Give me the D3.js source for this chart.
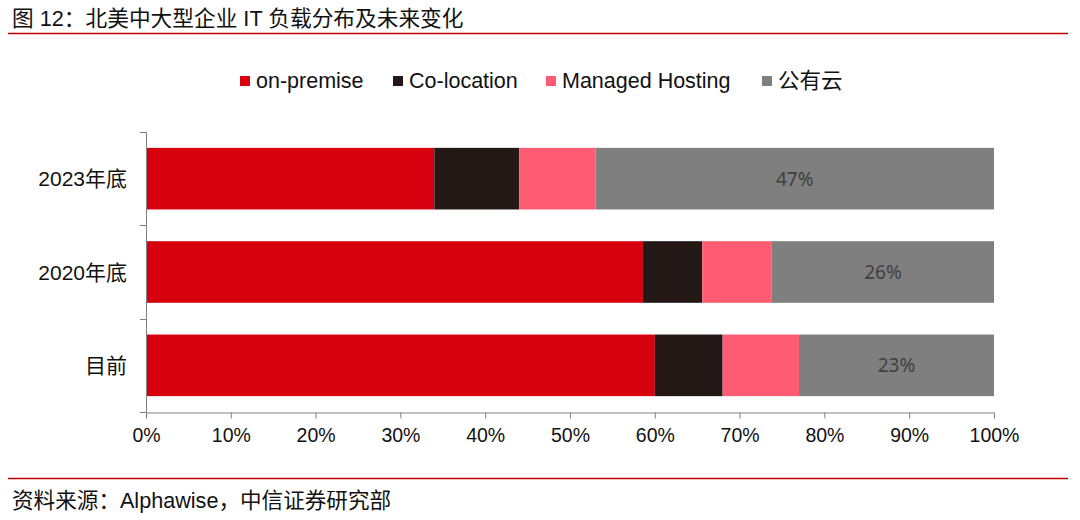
<!DOCTYPE html>
<html><head><meta charset="utf-8">
<script src="https://cdn.jsdelivr.net/npm/d3@7"></script>
<style>body{margin:0;background:#fff}svg{display:block}</style>
</head><body><svg id="c" width="1080" height="520"></svg>
<script>
const categories = ["2023年底", "2020年底", "目前"];
const seriesNames = ["on-premise", "Co-location", "Managed Hosting", "公有云"];
const onPremise = [34, 58.6, 60];
const coLocation = [10, 7, 8];
const managedHosting = [9, 8.2, 9];
const publicCloud = [47, 26.2, 23];
const xTicks = [0, 0.1, 0.2, 0.3, 0.4, 0.5, 0.6, 0.7, 0.8, 0.9, 1.0];
const colors = ["#D7000F", "#231816", "#FF5B72", "#7F7F7F"];

const font = "'Liberation Sans', Arial, 'Noto Sans CJK SC', sans-serif";
const svg = d3.select("#c");

// title
svg.append("text").attr("x", 12).attr("y", 26).attr("font-family", font).attr("font-size", 21.7)
  .attr("fill", "#111").text("图 12：北美中大型企业 IT 负载分布及未来变化");
svg.append("line").attr("x1", 8).attr("x2", 1068).attr("y1", 33.5).attr("y2", 33.5)
  .attr("stroke", "#C00000").attr("stroke-width", 1.5);

// footer
svg.append("line").attr("x1", 8).attr("x2", 1068).attr("y1", 478.5).attr("y2", 478.5)
  .attr("stroke", "#C00000").attr("stroke-width", 1.5);
svg.append("text").attr("x", 12).attr("y", 508).attr("font-family", font).attr("font-size", 21.6)
  .attr("fill", "#111").text("资料来源：Alphawise，中信证券研究部");

const data = categories.map((c, i) => ({
  cat: c, "on-premise": onPremise[i], "Co-location": coLocation[i],
  "Managed Hosting": managedHosting[i], "公有云": publicCloud[i]
}));
const stack = d3.stack().keys(seriesNames).offset(d3.stackOffsetExpand)(data);

const x = d3.scaleLinear().domain([0, 1]).range([146, 994]);
const y = d3.scaleBand().domain(categories).range([132, 412]).paddingInner(0.34).paddingOuter(0.17);
const color = d3.scaleOrdinal().domain(seriesNames).range(colors);

const g = svg.append("g");
stack.forEach(s => {
  g.append("g").attr("fill", color(s.key)).selectAll("rect").data(s).join("rect")
    .attr("x", d => x(d[0])).attr("width", d => x(d[1]) - x(d[0]))
    .attr("y", d => y(d.data.cat)).attr("height", y.bandwidth());
});
// labels on public cloud
const last = stack[3];
g.selectAll("text.lbl").data(last).join("text").attr("class", "lbl")
  .attr("x", d => (x(d[0]) + x(d[1])) / 2).attr("y", d => y(d.data.cat) + y.bandwidth() / 2)
  .attr("text-anchor", "middle").attr("dominant-baseline", "central")
  .attr("font-family", "'Noto Sans', 'Open Sans', sans-serif").attr("font-size", 19).attr("fill", "#404040")
  .text(d => Math.round(d.data["公有云"]) + "%");

// x axis
const xAxis = svg.append("g").attr("transform", "translate(0,412.5)")
  .call(d3.axisBottom(x).tickValues(xTicks).tickFormat(d3.format(".0%")).tickSizeOuter(0).tickSize(6).tickPadding(10));
xAxis.select(".domain").attr("stroke", "#808080");
xAxis.selectAll(".tick line").attr("stroke", "#808080");
xAxis.selectAll("text").attr("font-family", font).attr("font-size", 19.5).attr("fill", "#111");

// y axis
const yBoundaries = [132, ...categories.map(c => y(c) + y.bandwidth() + y.step() * y.paddingInner() / 2)];
const yAxisG = svg.append("g");
yAxisG.append("line").attr("x1", 146.5).attr("x2", 146.5).attr("y1", 132).attr("y2", 412.5).attr("stroke", "#808080");
yAxisG.selectAll("line.t").data(yBoundaries).join("line").attr("class", "t")
  .attr("x1", 140).attr("x2", 146.5).attr("y1", d => Math.round(d) + 0.5).attr("y2", d => Math.round(d) + 0.5).attr("stroke", "#808080");
yAxisG.selectAll("text").data(categories).join("text")
  .attr("x", 127).attr("y", d => y(d) + y.bandwidth() / 2).attr("text-anchor", "end")
  .attr("dominant-baseline", "central").attr("font-family", font).attr("font-size", 21).attr("fill", "#111").text(d => d);

// legend
const legX = [240, 393, 546, 762];
const leg = svg.append("g").selectAll("g").data(seriesNames).join("g")
  .attr("transform", (d, i) => `translate(${legX[i]},81)`);
leg.append("rect").attr("x", 0).attr("y", -5).attr("width", 10).attr("height", 10).attr("fill", d => color(d));
leg.append("text").attr("x", 16).attr("y", 0).attr("dominant-baseline", "central")
  .attr("font-family", font).attr("font-size", 21.5).attr("fill", "#111").text(d => d);
</script></body></html>
